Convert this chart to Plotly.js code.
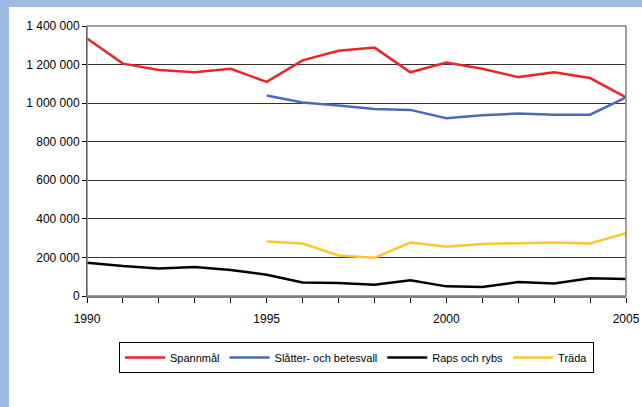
<!DOCTYPE html><html><head><meta charset="utf-8"><script src="https://cdn.plot.ly/plotly-3.0.1.min.js"></script>
<style>body{margin:0;background:#9dbbe3}#c{position:absolute;left:9px;top:7px;width:633px;height:400px;background:#fff}</style></head><body><div id="c"></div><script>
const years=[1990,1991,1992,1993,1994,1995,1996,1997,1998,1999,2000,2001,2002,2003,2004,2005];
const years2=years.slice(5);
const yearLabels=["1990","","","","","1995","","","","","2000","","","","","2005"];
const spannmal=[1335000,1205000,1172000,1160000,1178000,1110000,1222000,1272000,1288000,1160000,1210000,1178000,1135000,1160000,1130000,1030000];
const slatter=[1040000,1003000,988000,970000,965000,922000,937000,946000,940000,940000,1030000];
const raps=[172000,155000,143000,150000,135000,110000,70000,68000,58000,82000,50000,47000,72000,65000,92000,88000];
const trada=[282000,272000,210000,198000,277000,255000,270000,273000,278000,272000,325000];
const names=["Spannmål","Slåtter- och betesvall","Raps och rybs","Träda"];
const colors=["#e8262b","#4a6cb8","#000000","#ffc72c"];
const tr=[[years,spannmal],[years2,slatter],[years,raps],[years2,trada]].map((d,i)=>({x:d[0],y:d[1],name:names[i],type:"scatter",mode:"lines",line:{color:colors[i],width:2.5}}));
Plotly.newPlot("c",tr,{width:633,height:400,paper_bgcolor:"#fff",plot_bgcolor:"#fff",separators:", ",
font:{family:"Liberation Sans, Arial",size:11,color:"#000"},
margin:{l:78,r:16,t:19,b:111},showlegend:true,
legend:{orientation:"h",x:0.5,xanchor:"center",y:-0.17,yanchor:"top",bordercolor:"#000",borderwidth:1,traceorder:"normal",font:{size:11},itemwidth:40,tracegroupgap:0},
xaxis:{range:[1990,2005],tickvals:years,ticktext:yearLabels,showgrid:false,showline:true,linecolor:"#808080",linewidth:1.5,ticks:"outside",ticklen:5,zeroline:false,tickcolor:"#000",ticklabelstandoff:6,tickfont:{size:12}},
yaxis:{range:[0,1400000],dtick:200000,tickformat:",d",gridcolor:"#333",gridwidth:1,showline:true,linecolor:"#000",ticks:"outside",ticklen:4,zeroline:false,tickcolor:"#000",tickfont:{size:12}},
shapes:[{type:"rect",xref:"paper",yref:"paper",x0:0,x1:1,y0:0,y1:1,line:{color:"#808080",width:1.5}}]
},{displayModeBar:false});
</script></body></html>
